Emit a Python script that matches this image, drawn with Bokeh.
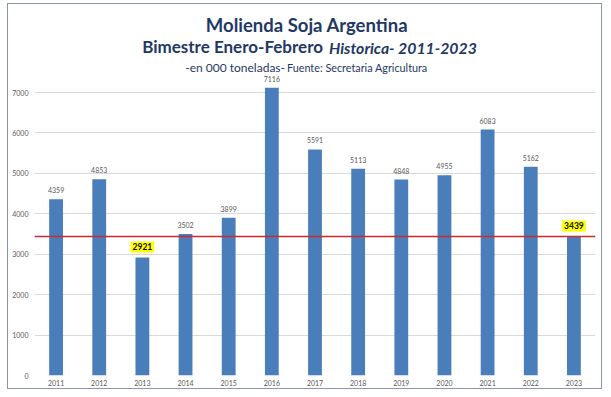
from bokeh.plotting import figure
from bokeh.models import Range1d, FactorRange, Span, FixedTicker, ColumnDataSource, LabelSet
from bokeh.core.properties import value
from bokeh.embed import file_html
from bokeh.resources import INLINE

years = ["2011", "2012", "2013", "2014", "2015", "2016", "2017", "2018", "2019", "2020", "2021", "2022", "2023"]
molienda = [4359, 4853, 2921, 3502, 3899, 7116, 5591, 5113, 4848, 4955, 6083, 5162, 3439]
highlight_years = ["2013", "2023"]
reference_value = 3439
y_ticks = [0, 1000, 2000, 3000, 4000, 5000, 6000, 7000]

FONT = "Lato"
NAVY = "#1f3864"

def yv(page_y):
    # convert a page pixel row to a value on the y scale (for title placement)
    return (375 - page_y) * 7000 / 283

p = figure(width=595, height=386, x_range=FactorRange(*years, range_padding=0),
           y_range=Range1d(0, 7000 * 371 / 283), output_backend="svg",
           toolbar_location=None, min_border_left=26, min_border_right=8,
           min_border_top=0, min_border_bottom=15)
p.styles = {"border": "1px solid #8c96aa", "margin-left": "7px", "margin-top": "3px"}
p.outline_line_color = None
p.background_fill_color = "white"

p.yaxis.ticker = FixedTicker(ticks=y_ticks)
p.ygrid.ticker = FixedTicker(ticks=y_ticks)
p.ygrid.grid_line_color = "#d9d9d9"
p.xgrid.grid_line_color = None
for ax in (p.xaxis, p.yaxis):
    ax.axis_line_color = None
    ax.major_tick_line_color = None
    ax.minor_tick_line_color = None
    ax.major_tick_out = 0
    ax.major_tick_in = 0
    ax.minor_tick_out = 0
    ax.major_label_text_font = FONT
    ax.major_label_text_font_size = "7px"
    ax.major_label_text_color = "#595959"
p.xaxis.major_label_standoff = 4
p.yaxis.major_label_standoff = 6

p.vbar(x=years, top=molienda, width=0.32, fill_color="#4a7ebb", line_color=None)

p.add_layout(Span(location=reference_value, dimension="width", line_color="#cc2a2e", line_width=1.5))

normal = ColumnDataSource(dict(x=[y for y in years if y not in highlight_years],
                               y=[v for y, v in zip(years, molienda) if y not in highlight_years],
                               t=[str(v) for y, v in zip(years, molienda) if y not in highlight_years]))
hl = ColumnDataSource(dict(x=[y for y in years if y in highlight_years],
                           y=[v for y, v in zip(years, molienda) if y in highlight_years],
                           t=[str(v) for y, v in zip(years, molienda) if y in highlight_years]))
p.add_layout(LabelSet(x="x", y="y", text="t", source=normal, text_align="center",
                      text_baseline="bottom", y_offset=6, text_font=value(FONT),
                      text_font_size="7px", text_color="#595959"))
p.text(x="x", y="y", text="t", source=hl, text_align="center",
       text_baseline="bottom", y_offset=-5, text_font=value(FONT),
       text_font_size="8.5px", text_font_style="bold", text_color="#111111",
       background_fill_color="#ffff00", padding=2)

def title_text(txt, page_y, x_off, align, size, style):
    p.text(x=["2017"], y=[yv(page_y)], text=[txt], x_offset=x_off, text_align=align,
           text_baseline="middle", text_font=value(FONT), text_font_size=size,
           text_font_style=style, text_color=NAVY)

title_text("Molienda Soja Argentina", 24, -8, "center", "18.5px", "bold")
title_text("Bimestre Enero-Febrero", 46, 8, "right", "17px", "bold")
title_text("Historica- 2011-2023", 47, 14, "left", "15.8px", "bold italic")
title_text("-en 000 toneladas-", 67, -30, "right", "12px", "normal")
title_text("Fuente: Secretaria Agricultura", 67, -28, "left", "10.8px", "normal")

open("out.html", "w").write(file_html(p, INLINE))
